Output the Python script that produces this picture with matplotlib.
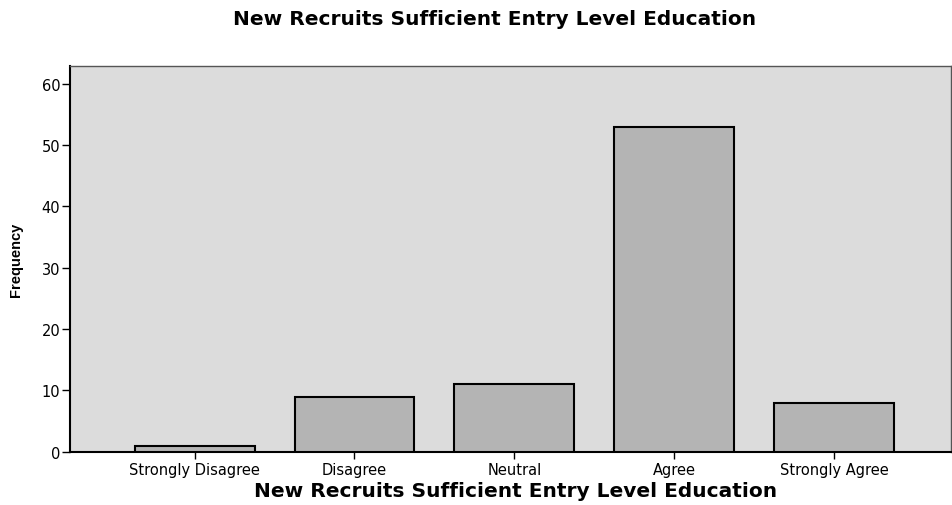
import matplotlib
matplotlib.use("Agg")
import matplotlib.pyplot as plt

categories = ["Strongly Disagree", "Disagree", "Neutral", "Agree", "Strongly Agree"]
frequencies = [1, 9, 11, 53, 8]
yticks = [0, 10, 20, 30, 40, 50, 60]
title = "New Recruits Sufficient Entry Level Education"

plt.rcParams['font.family'] = ['DejaVu Sans']

fig = plt.figure(figsize=(9.52, 5.06), dpi=100)
ax = fig.add_axes([0.0735, 0.105, 0.925, 0.763])
ax.set_facecolor('#dcdcdc')
x = list(range(len(categories)))
ax.bar(x, frequencies, width=0.75, color='#b4b4b4', edgecolor='black', linewidth=1.5, zorder=3)
ax.set_xlim(-0.78, 4.73)
ax.set_ylim(0, 62.9)
ax.set_yticks(yticks)
ax.set_yticklabels([str(v) for v in yticks], fontsize=10.5)
ax.set_xticks(x)
ax.set_xticklabels(categories, fontsize=10.5)
ax.tick_params(axis='y', length=6, width=1, color='black', pad=1)
ax.tick_params(axis='x', length=5, width=1, color='black', pad=2)
for s in ['left', 'bottom']:
    ax.spines[s].set_linewidth(1.5)
for s in ['top', 'right']:
    ax.spines[s].set_linewidth(1.0)
    ax.spines[s].set_color('#555555')
ax.set_xlabel(title, fontsize=14.5, fontweight='bold')
ax.xaxis.set_label_coords(0.506, -0.076)
ax.set_ylabel("Frequency", fontsize=10.5, fontweight='bold', labelpad=13,
              family=['Liberation Sans', 'DejaVu Sans'])
fig.suptitle(title, fontsize=14.5, fontweight='bold', x=0.519, y=0.98)
fig.savefig("out.png", dpi=100)
